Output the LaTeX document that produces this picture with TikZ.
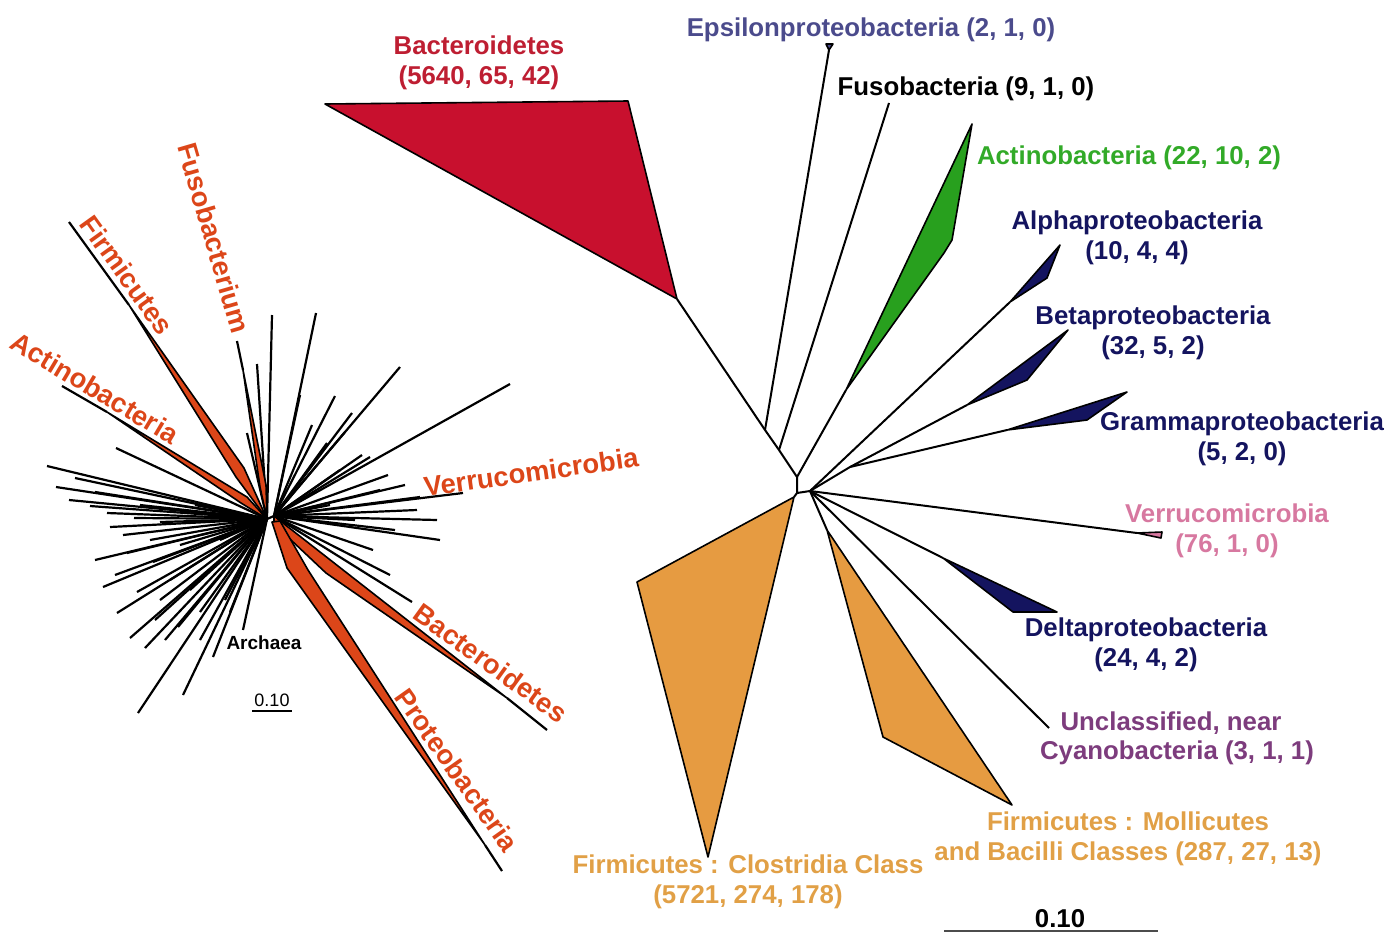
\documentclass[tikz,border=0pt]{standalone}
\usepackage{fontspec}
\setmainfont{Liberation Sans}
\usepackage{tikz}
\usetikzlibrary{calc}
\definecolor{bactred}{RGB}{200,16,46}
\definecolor{bactlabel}{RGB}{190,30,50}
\definecolor{epsblue}{RGB}{75,75,140}
\definecolor{actgreen}{RGB}{40,160,30}
\definecolor{actlabel}{RGB}{50,170,40}
\definecolor{proteonavy}{RGB}{20,20,95}
\definecolor{verrupink}{RGB}{215,120,160}
\definecolor{unclpurple}{RGB}{125,60,125}
\definecolor{firmorange}{RGB}{230,155,65}
\definecolor{firmlabel}{RGB}{225,160,70}
\definecolor{starred}{RGB}{220,70,25}
\tikzstyle{branch} = [
    draw,
    line width=1pt,
    line join=round
]
\tikzstyle{twig}   = [draw, line width=1.1pt]
\tikzstyle{clade}  = [draw=black, line width=0.8pt, line join=round]
\tikzstyle{lbl}    = [
    font=\fontsize{12.9}{15}\selectfont\bfseries,
    align=center,
    inner sep=0pt
]
\tikzstyle{starlbl} = [
    font=\fontsize{13.7}{15}\selectfont\bfseries,
    text=starred,
    inner sep=0pt
]

\begin{document}
\begin{tikzpicture}[x=0.5pt, y=-0.5pt]
\useasboundingbox (0,0) rectangle (1391,932);

% ---- small star tree (left) ----
\coordinate (hubL) at (267,519);
\coordinate (hubR) at (274,516);
\draw[twig] (hubL) -- (hubR);

\foreach \x/\y [count=\i] in {116/448, 47/466, 56/487, 69/500, 90/506, 107/513,
    134/518, 160/522, 110/527, 123/535, 150/540, 180/545, 127/553, 153/562,
    137/592, 103/587, 117/613, 160/600, 130/638, 145/648, 178/627, 200/612,
    213/657, 183/695, 138/713, 225/600, 247/433, 257/364, 272/315, 195/505,
    220/540, 75/478, 95/492, 95/560, 115/575, 170/580, 190/590, 165/640,
    200/640, 230/612, 155/620, 140/505}
{
    \coordinate (wl\i) at (\x,\y);
    \draw[twig] (hubL) -- (wl\i);
}

\foreach \x/\y [count=\i] in {316/313, 300/395, 335/396, 352/413, 400/367,
    510/384, 312/425, 327/443, 345/432, 362/455, 370/457, 388/475, 405/485,
    420/497, 463/493, 417/510, 437/520, 440/540, 373/550, 390/575, 412/602,
    395/530, 355/520, 330/505, 380/490, 340/470}
{
    \coordinate (wr\i) at (\x,\y);
    \draw[twig] (hubR) -- (wr\i);
}

% archaea
\coordinate (archtip) at (243,630);
\draw[twig] (hubL) -- (archtip);

% coloured phyla
\coordinate (firmtip) at (69,222);
\coordinate (firmend) at (129,305);
\draw[twig] (firmtip) -- (firmend);
\filldraw[clade, fill=starred] (firmend) -- (244,468) -- (hubL) -- (236,477) -- cycle;

\coordinate (acttip) at (62,386);
\coordinate (actend) at (107,412);
\draw[twig] (acttip) -- (actend);
\filldraw[clade, fill=starred] (actend) -- (247,497) -- (hubL) -- (241,503) -- cycle;

\coordinate (fusotip) at (237,341);
\coordinate (fusoend) at (243,370);
\draw[twig] (fusotip) -- (fusoend);
\filldraw[clade, fill=starred] (fusoend) -- (266,485) -- (hubL) -- (260,487) -- cycle;

\coordinate (bacttip) at (547,730);
\coordinate (bactend) at (507,698);
\draw[twig] (bactend) -- (bacttip);
\filldraw[clade, fill=starred] (hubR) -- (bactend) -- (326,573) -- (274,524) -- cycle;

\coordinate (prottip) at (502,871);
\coordinate (protend) at (485,845);
\draw[twig] (protend) -- (prottip);
\filldraw[clade, fill=starred] (272,522) -- (287,568) -- (protend) -- (308,570) -- (280,521) -- cycle;

\node[starlbl, rotate=-54.3]  (firmstar)  at (127,275) {Firmicutes};
\node[starlbl, rotate=-73.8]  (fusostar)  at (214,238) {Fusobacterium};
\node[starlbl, rotate=-30.8]  (actstar)   at (95,388)  {Actinobacteria};
\node[starlbl, rotate=8]      (verrustar) at (531,472) {Verrucomicrobia};
\node[starlbl, rotate=-35.9]  (bactstar)  at (491,663) {Bacteroidetes};
\node[starlbl, rotate=-54.7]  (protstar)  at (457,770) {Proteobacteria};
\node[font=\fontsize{9.5}{11}\selectfont\bfseries, inner sep=0pt] (archlab) at (264,643) {Archaea};
\node[font=\fontsize{9}{10}\selectfont, inner sep=0pt] (smallscale) at (272,700) {0.10};
\draw[line width=1pt] ($(smallscale.south)+(-20,4)$) -- ($(smallscale.south)+(20,4)$);

% ---- large tree (right) ----
\coordinate (rootA)     at (797,477);
\coordinate (rootB)     at (797,493);
\coordinate (rootC)     at (810,491);
\coordinate (bacnode)   at (765,430);
\coordinate (fusnode)   at (779,450);
\coordinate (bacbase)   at (677,299);
\coordinate (epstip)    at (829,50);
\coordinate (fustip)    at (889,103);
\coordinate (actbase)   at (846,390);
\coordinate (protnode)  at (850,467);
\coordinate (alphabase) at (1010,302);
\coordinate (betabase)  at (967,405);
\coordinate (gammabase) at (1007,430);
\coordinate (verrubase) at (1137,533);
\coordinate (deltabase) at (943,558);
\coordinate (uncltip)   at (1049,728);
\coordinate (mollbase)  at (827,530);
\coordinate (clostbase) at (794,497);

\draw[branch] (rootA) -- (fusnode) -- (bacnode) -- (bacbase);
\draw[branch] (bacnode) -- (epstip);
\draw[branch] (fusnode) -- (fustip);
\draw[branch] (rootA) -- (actbase);
\draw[branch] (rootA) -- (rootB) -- (rootC);
\draw[branch] (rootB) -- (clostbase);
\draw[branch] (rootC) -- (alphabase);
\draw[branch] (rootC) -- (protnode) -- (betabase);
\draw[branch] (protnode) -- (gammabase);
\draw[branch] (rootC) -- (verrubase);
\draw[branch] (rootC) -- (deltabase);
\draw[branch] (rootC) -- (uncltip);
\draw[branch] (rootC) -- (mollbase);

\filldraw[clade, fill=bactred]    (bacbase) -- (325,104) -- (628,101) -- cycle;
\filldraw[clade, fill=epsblue]    (826,44) -- (833,44) -- (epstip) -- cycle;
\filldraw[clade, fill=actgreen]   (actbase) -- (972,124) -- (952,240) -- (944,253) -- cycle;
\filldraw[clade, fill=proteonavy] (alphabase) -- (1060,245) -- (1047,278) -- cycle;
\filldraw[clade, fill=proteonavy] (betabase) -- (1068,330) -- (1027,380) -- cycle;
\filldraw[clade, fill=proteonavy] (gammabase) -- (1127,392) -- (1087,420) -- cycle;
\filldraw[clade, fill=verrupink]  (verrubase) -- (1162,532) -- (1161,538) -- cycle;
\filldraw[clade, fill=proteonavy] (deltabase) -- (1057,612) -- (1013,612) -- cycle;
\filldraw[clade, fill=firmorange] (mollbase) -- (883,737) -- (1012,805) -- cycle;
\filldraw[clade, fill=firmorange] (clostbase) -- (637,582) -- (708,857) -- cycle;

\node[lbl, text=bactlabel]  (bactlab)  at (479,63)   {Bacteroidetes\\(5640, 65, 42)};
\node[lbl, text=epsblue]    (epslab)   at (871,30)   {Epsilonproteobacteria (2, 1, 0)};
\node[lbl]                  (fuslab)   at (966,89)   {Fusobacteria (9, 1, 0)};
\node[lbl, text=actlabel]   (actlab)   at (1129,158) {Actinobacteria (22, 10, 2)};
\node[lbl, text=proteonavy] (alphalab) at (1137,238) {Alphaproteobacteria\\(10, 4, 4)};
\node[lbl, text=proteonavy] (betalab)  at (1153,333) {Betaproteobacteria\\(32, 5, 2)};
\node[lbl, text=proteonavy] (gammalab) at (1242,439) {Grammaproteobacteria\\(5, 2, 0)};
\node[lbl, text=verrupink]  (verrulab) at (1227,531) {Verrucomicrobia\\(76, 1, 0)};
\node[lbl, text=proteonavy] (deltalab) at (1146,645) {Deltaproteobacteria\\(24, 4, 2)};
\node[lbl, text=unclpurple] (uncllab)  at (1171,723) {Unclassified, near};
\node[lbl, text=unclpurple] (uncllabb) at (1177,753) {Cyanobacteria (3, 1, 1)};
\node[lbl, text=firmlabel]  (molllab)  at (1128,839) {Firmicutes : Mollicutes\\and Bacilli Classes (287, 27, 13)};
\node[lbl, text=firmlabel]  (clostlab) at (748,882)  {Firmicutes : Clostridia Class\\(5721, 274, 178)};

\node[lbl] (bigscale) at (1060,919) {0.10};
\draw[line width=1pt, black!70] (944,931) -- (1158,931);

\end{tikzpicture}
\end{document}
